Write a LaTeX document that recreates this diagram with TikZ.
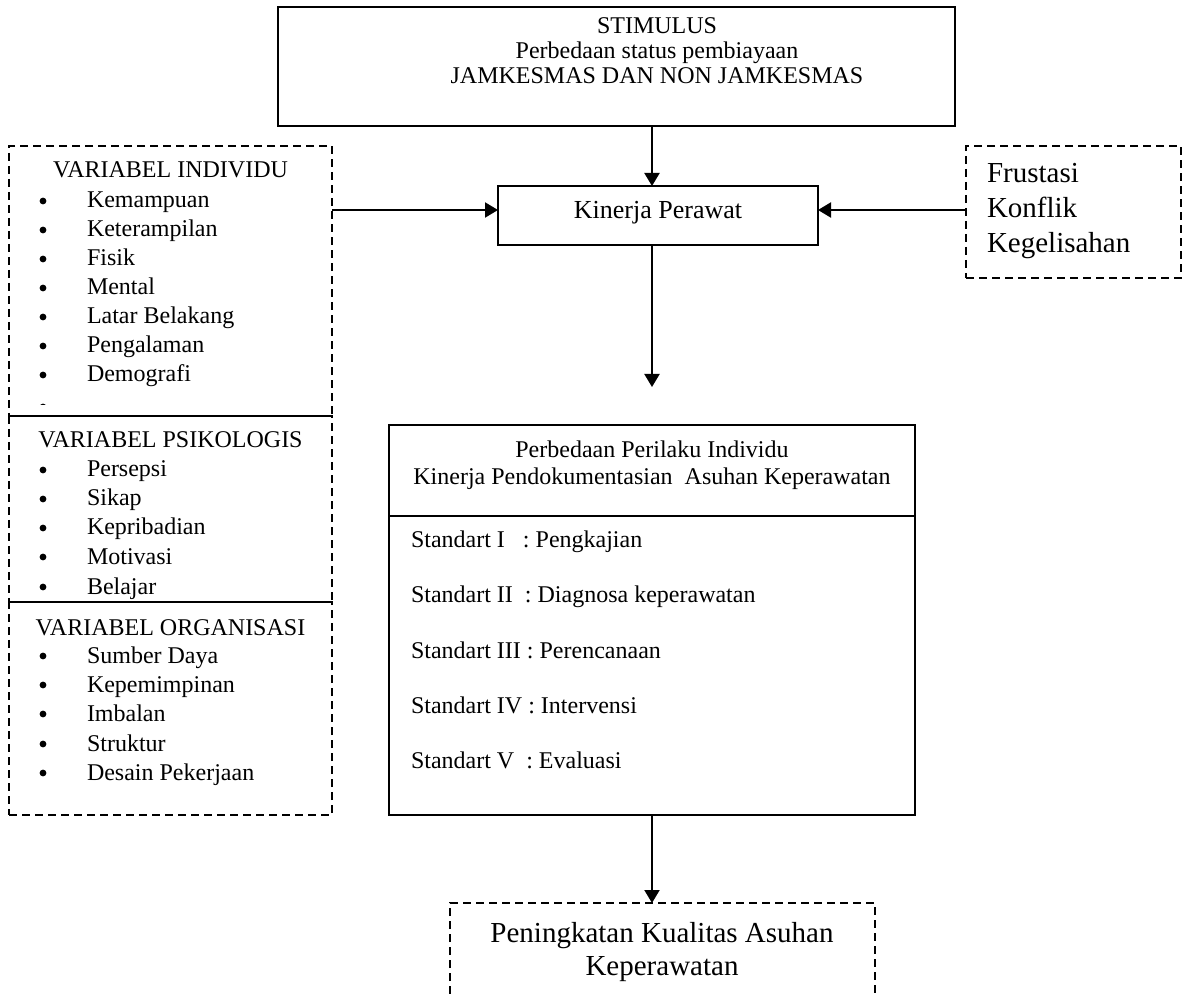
\documentclass[tikz,border=0pt]{standalone}
\usepackage{fontspec}
\setmainfont{Liberation Serif}
\usetikzlibrary{arrows.meta}
\begin{document}
\begin{tikzpicture}[x=0.5pt,y=-0.5pt,
  every node/.style={font=\fontsize{12pt}{14pt}\selectfont, inner sep=0pt, outer sep=0pt},
  sbox/.style={draw, line width=1pt, rectangle},
  dbox/.style={draw, line width=1pt, rectangle, dash pattern=on 4pt off 2.5pt},
  dline/.style={line width=1pt, dash pattern=on 4pt off 2.5pt},
  arr/.style={-{Triangle[length=6.5pt,width=7.5pt]}, line width=1pt},
  item/.style={anchor=base west},
  ctr/.style={anchor=base},
  bul/.style={circle, fill, minimum size=3.4pt},
  big/.style={font=\fontsize{14.5pt}{17pt}\selectfont}]
\useasboundingbox (0,0) rectangle (1189,994);

% top stimulus box
\node[sbox, minimum width=338.5pt, minimum height=59.5pt] (stim) at (616.5,66.5) {};
\node[ctr] (stim1) at (657,34) {STIMULUS};
\node[ctr] (stim2) at (657,59) {Perbedaan status pembiayaan};
\node[ctr] (stim3) at (657,84) {JAMKESMAS DAN NON JAMKESMAS};

% kinerja perawat
\node[sbox, minimum width=160pt, minimum height=29.5pt] (kin) at (658,215.5) {};
\node[ctr, font=\fontsize{13pt}{15pt}\selectfont] (kint) at (658,219) {Kinerja Perawat};

% left dashed boxes
\node[dbox, minimum width=161.5pt, minimum height=135pt] (ind) at (170.5,281) {};
\node[dbox, minimum width=161.5pt, minimum height=93pt] (psi) at (170.5,509) {};
\node[dbox, minimum width=161.5pt, minimum height=106.5pt] (org) at (170.5,708.5) {};

\node[ctr] (indh) at (170.5,178) {VARIABEL INDIVIDU};
\foreach \t/\y [count=\i] in {Kemampuan/208,Keterampilan/237,Fisik/266,Mental/295,Latar Belakang/324,Pengalaman/353,Demografi/382}{
  \node[bul] (indb\i) at (43,\y-7) {};
  \node[item] (indt\i) at (87,\y) {\t};
}
\begin{scope}
  \clip (9,146) rectangle (332,405);
  \node[bul] (indb8) at (43,407) {};
\end{scope}

\node[ctr] (psih) at (170.5,448) {VARIABEL PSIKOLOGIS};
\foreach \t/\y [count=\i] in {Persepsi/477,Sikap/506,Kepribadian/535,Motivasi/564,Belajar/594}{
  \node[bul] (psib\i) at (43,\y-7) {};
  \node[item] (psit\i) at (87,\y) {\t};
}

\node[ctr] (orgh) at (170.5,635) {VARIABEL ORGANISASI};
\foreach \t/\y [count=\i] in {Sumber Daya/663,Kepemimpinan/692,Imbalan/721,Struktur/751,Desain Pekerjaan/780}{
  \node[bul] (orgb\i) at (43,\y-7) {};
  \node[item] (orgt\i) at (87,\y) {\t};
}

% right dashed box
\node[dbox, minimum width=107.5pt, minimum height=66pt] (fks) at (1073.5,212) {};
\node[big, item] (fks1) at (987,183) {Frustasi};
\node[big, item] (fks2) at (987,218) {Konflik};
\node[big, item] (fks3) at (987,253) {Kegelisahan};

% perbedaan box
\node[sbox, minimum width=263pt, minimum height=195pt] (per) at (652,620) {};
\draw[line width=1pt] (per.west |- 0,516) -- (per.east |- 0,516);
\node[ctr] (perh1) at (652,458) {Perbedaan Perilaku Individu};
\node[ctr] (perh2) at (652,485) {Kinerja Pendokumentasian\ \ Asuhan Keperawatan};
\node[item] (s1) at (411,547) {Standart I\ \ \ : Pengkajian};
\node[item] (s2) at (411,602) {Standart II\ \ : Diagnosa keperawatan};
\node[item] (s3) at (411,658) {Standart III : Perencanaan};
\node[item] (s4) at (411,713) {Standart IV : Intervensi};
\node[item] (s5) at (411,768) {Standart V\ \ : Evaluasi};

% bottom dashed open box
\coordinate (pengtop) at (652,903);
\coordinate (pbl) at (450,994);
\coordinate (ptl) at (450,903);
\coordinate (ptr) at (875,903);
\coordinate (pbr) at (875,994);
\draw[dline] (pbl) -- (ptl) -- (ptr) -- (pbr);
\node[big, ctr] (peng1) at (662,942) {Peningkatan Kualitas Asuhan};
\node[big, ctr] (peng2) at (662,975) {Keperawatan};

% connectors
\coordinate (perin) at (652,387);
\coordinate (yline) at (0,210);
\draw[arr] (stim.south -| perin) -- (kin.north -| perin);
\draw[arr] (ind.east |- yline) -- (kin.west |- yline);
\draw[arr] (fks.west |- yline) -- (kin.east |- yline);
\draw[arr] (kin.south -| perin) -- (perin);
\draw[arr] (per.south) -- (pengtop);
\end{tikzpicture}
\end{document}
